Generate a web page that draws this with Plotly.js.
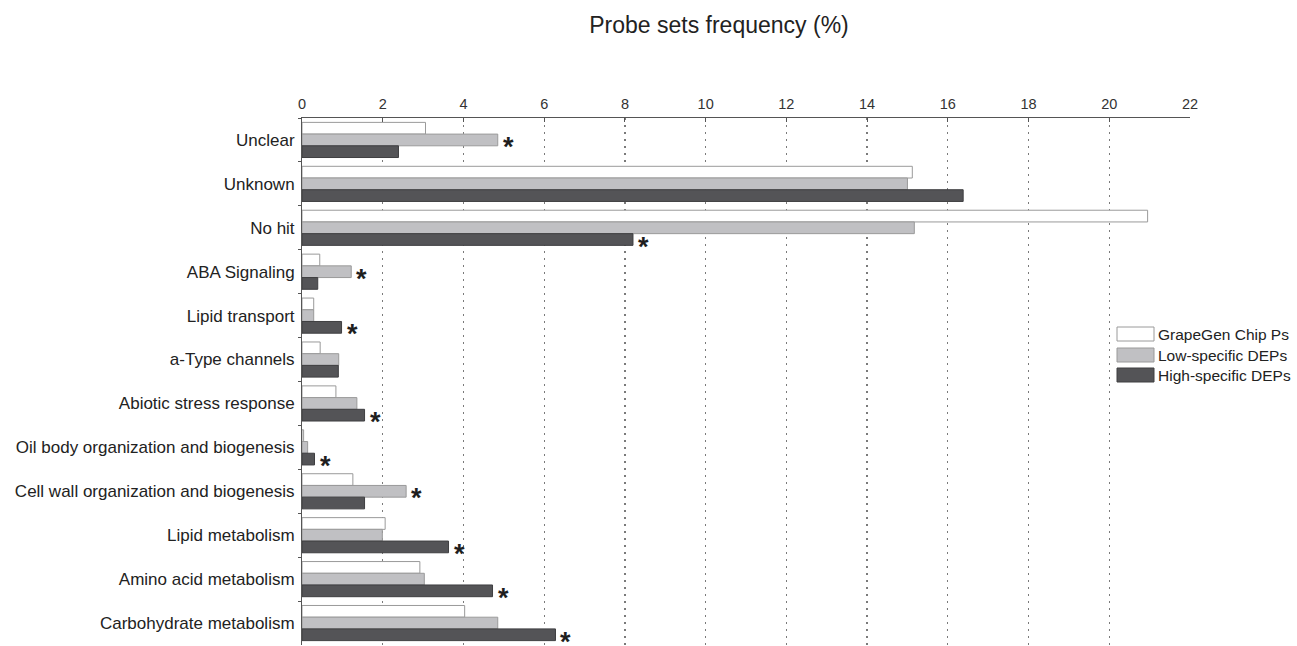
<!DOCTYPE html>
<html>
<head>
<meta charset="utf-8">
<script src="https://cdn.plot.ly/plotly-3.0.1.min.js"></script>
<style>
html,body{margin:0;padding:0;background:#fff;}
#chart{width:1297px;height:646px;}
</style>
</head>
<body>
<div id="chart"></div>
<script>
const categories = [
  "Unclear", "Unknown", "No hit", "ABA Signaling", "Lipid transport",
  "a-Type channels", "Abiotic stress response",
  "Oil body organization and biogenesis",
  "Cell wall organization and biogenesis", "Lipid metabolism",
  "Amino acid metabolism", "Carbohydrate metabolism"
];
const seriesNames = ["GrapeGen Chip Ps", "Low-specific DEPs", "High-specific DEPs"];
const grapeGen     = [3.06, 15.12, 20.95, 0.44, 0.29, 0.45, 0.84, 0.04, 1.26, 2.06, 2.92, 4.03];
const lowSpecific  = [4.85, 15.00, 15.17, 1.22, 0.29, 0.91, 1.36, 0.14, 2.58, 1.99, 3.03, 4.85];
const highSpecific = [2.39, 16.38, 8.20, 0.39, 0.98, 0.90, 1.55, 0.31, 1.55, 3.63, 4.72, 6.28];
// significance marks: which series (0,1,2) carries an asterisk per category (-1 = none)
const starSeries   = [1, -1, 2, 1, 2, -1, 2, 2, 1, 2, 2, 2];
const xTicks = [0, 2, 4, 6, 8, 10, 12, 14, 16, 18, 20, 22];

const seriesValues = [grapeGen, lowSpecific, highSpecific];
const fills = ["#ffffff", "#c0c0c3", "#545457"];
const outlines = ["#9a9a9a", "#9a9a9a", "#3e3e40"];

const traces = seriesValues.map((vals, i) => ({
  type: "bar",
  orientation: "h",
  name: seriesNames[i],
  x: vals,
  y: categories,
  marker: {color: fills[i], line: {color: outlines[i], width: 1}},
  showlegend: false,
  hoverinfo: "x+y"
}));

const bargap = 0.2;
const bw = (1 - bargap) / 3;
const annotations = [];
starSeries.forEach((s, ci) => {
  if (s < 0) return;
  annotations.push({
    x: seriesValues[s][ci], y: ci + (s - 1) * bw,
    xref: "x", yref: "y",
    text: "<b>*</b>", showarrow: false,
    xanchor: "left", yanchor: "middle",
    xshift: 3, yshift: -7,
    font: {family: "Liberation Sans, Arial, sans-serif", size: 27, color: "#1e1e1e"}
  });
});

// manual legend (wide swatches like the reference)
const shapes = [];
const plotL = 302, plotR = 1190, plotT = 118, plotB = 645;
const px2x = px => (px - plotL) / (plotR - plotL);
const py2y = py => (plotB - py) / (plotB - plotT);
const legRows = [334, 355, 375];
seriesNames.forEach((n, i) => {
  shapes.push({
    type: "rect", xref: "paper", yref: "paper",
    x0: px2x(1117), x1: px2x(1154),
    y0: py2y(legRows[i] + 7), y1: py2y(legRows[i] - 7),
    fillcolor: fills[i], line: {color: outlines[i], width: 1}
  });
  annotations.push({
    x: px2x(1156), y: py2y(legRows[i]), xref: "paper", yref: "paper",
    text: n, showarrow: false, xanchor: "left", yanchor: "middle",
    font: {family: "Liberation Sans, Arial, sans-serif", size: 15.5, color: "#222"}
  });
});

const layout = {
  width: 1297, height: 646,
  margin: {l: plotL, r: 1297 - plotR, t: plotT, b: 646 - plotB, pad: 0},
  paper_bgcolor: "#fff", plot_bgcolor: "#fff",
  font: {family: "Liberation Sans, Arial, sans-serif", color: "#222"},
  title: {
    text: "Probe sets frequency (%)",
    x: 719 / 1297, xref: "container", xanchor: "center",
    y: 1 - 25 / 646, yref: "container", yanchor: "middle",
    font: {size: 23, color: "#222"}
  },
  barmode: "group", bargap: bargap, bargroupgap: 0,
  xaxis: {
    side: "top", range: [0, 22], tickvals: xTicks, ticktext: xTicks.map(String),
    showline: true, linecolor: "#555", linewidth: 1,
    ticks: "inside", ticklen: 4, tickcolor: "#555",
    tickfont: {size: 14.5, color: "#333"}, ticklabelstandoff: 2,
    showgrid: true, gridcolor: "#7a7a7a", griddash: "2px,5px", gridwidth: 1.3,
    zeroline: false, fixedrange: true
  },
  yaxis: {
    type: "category", categoryorder: "array", categoryarray: categories,
    range: [11.5, -0.5],
    showline: true, linecolor: "#555", linewidth: 1,
    ticks: "outside", ticklen: 3, tickcolor: "#555", tickson: "boundaries",
    tickfont: {size: 17, color: "#222"}, ticklabelstandoff: 3,
    showgrid: false, zeroline: false, fixedrange: true
  },
  showlegend: false,
  annotations: annotations,
  shapes: shapes
};

Plotly.newPlot("chart", traces, layout, {displayModeBar: false, staticPlot: true});
</script>
</body>
</html>
